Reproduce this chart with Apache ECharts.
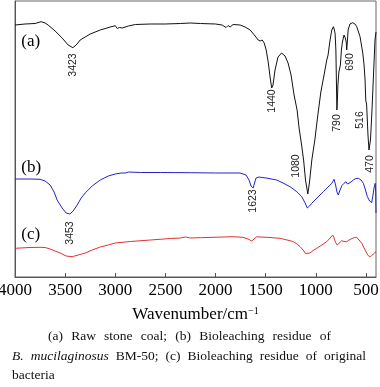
<!DOCTYPE html>
<html><head><meta charset="utf-8">
<script src="https://cdn.jsdelivr.net/npm/echarts@6/dist/echarts.min.js"></script>
<style>html,body{margin:0;padding:0;background:#fff}#c{width:380px;height:387px}</style>
</head><body><div id="c"></div>
<script>
// ---- data (wavenumber, relative transmittance, arbitrary offset units) ----
const waveA = [4000,3900,3800,3740,3700,3670,3600,3530,3470,3423,3390,3350,3250,3150,3050,3000,2980,2960,2930,2870,2800,2650,2535,2518,2503,2350,2250,2150,2000,1935,1895,1875,1855,1825,1755,1705,1655,1605,1575,1555,1535,1515,1495,1475,1455,1440,1427,1407,1377,1342,1307,1277,1247,1217,1187,1167,1142,1122,1103,1080,1063,1040,1010,980,950,918,900,891,885,878,858,841,825,815,808,800,795,790,785,780,770,755,745,735,719,706,697,692,686,678,660,632,610,592,559,532,519,509,504,501,494,491,480,470,455,440,425,410,400];
const transA = [252,253,253.5,255.3,254,252,246,239,232,229.3,232,237,243,247,250,251.3,248.5,249.5,249,251,252.5,253,253,251.5,253,253.5,254,253.5,253,252,249.5,251.5,250,252.5,252,250,247,241,237,236,237,234,227,215,199,189,192,207,220,224,221,214,202,182,167,149,132,117,97,83,95,117,137,162,185,202,212,217,217,222,237,247,250.3,247,243.7,227,197,167,177,192,205,212,227,235,242,239,235,227,235,247,253,254.3,253,250.3,240.3,224,212,197,182,176,173,167,142,127,137,167,202,237,245];
const waveB = [4000,3850,3750,3700,3650,3610,3580,3530,3490,3453,3420,3380,3340,3300,3230,3150,3070,3000,2940,2921,2900,2870,2750,2550,2250,2000,1755,1696,1666,1646,1625,1611,1596,1566,1536,1496,1390,1327,1257,1190,1140,1107,1085,1063,1041,988,925,878,841,818,803,789,776,759,739,719,699,684,666,649,626,599,576,549,526,505,486,464,443,430,420,408,403,400];
const transB = [98,98,97.7,96,92,85,77,69,64,63,66,72,79,84,91,97,101,103,104,106,104,105,104.5,104.5,104.3,104,104,102,97,91,89,94,99,100,99.5,99,97,94,90.3,85.3,80.3,74,69,71,73.7,79,85.3,90,93.7,97.7,92,85,82,87,91.5,93.7,95.3,93,91,95,97,98.5,98.7,97,93.7,87,80.3,76,74.3,82,89,93.7,85,64];
const waveC = [4000,3850,3750,3700,3650,3600,3550,3490,3430,3370,3300,3230,3150,3070,3000,2850,2650,2450,2350,2300,2250,2150,2025,1825,1726,1676,1639,1616,1589,1556,1489,1357,1307,1257,1224,1187,1157,1127,1103,1085,1058,1028,991,948,891,858,832,818,803,786,769,742,719,692,669,639,614,592,569,542,519,492,474,453,440,427,415,400];
const transC = [28.7,29.5,29.7,29.5,28,26,24,21,20.3,22,24,27,30,32,34,35.5,37,38.5,39,40,39,39.3,39.7,40.3,39.7,38,36,38,40.3,40,39.7,38.7,37.5,36.3,35.3,33,30.3,27,23.5,22,24,26.5,28.7,31.5,35.3,39,42,39,34.5,32,34,36.3,35.5,35.3,37,38.5,39.5,39.7,37,33.7,29,23.7,21,20.3,22,23,24.5,25.3];
const tickValues = [4000,3500,3000,2500,2000,1500,1000,500];
const curveTags = ['(a)','(b)','(c)'];
const curveTagWave = [3938,3938,3938];
const curveTagLevel = [235,109,42];
const peakTexts = ['3423','1440','1080','790','690','516','470','1623','3453'];
const peakWave = [3423,1440,1200,790,660,557,457,1623,3453];
const peakLevel = [212,176,111,154,215,157,113,76,44];
const captionLine1 = ['(a)','Raw','stone','coal;','(b)','Bioleaching','residue','of'];
const captionLine2 = ['B.','mucilaginosus','BM-50;','(c)','Bioleaching','residue','of','original'];
const captionLine2Italic = [true,true,false,false,false,false,false,false];
const captionLine3 = 'bacteria';

// ---- chart ----
const SERIF = '"Liberation Serif","Times New Roman",serif';
const SANS = '"Liberation Sans",Arial,sans-serif';
const chart = echarts.init(document.getElementById('c'), null, {renderer:'canvas'});
const pair = (w, t) => w.map((x, i) => [x, t[i]]);
const mk = (name, data, color) => ({
  type:'line', name, data, showSymbol:false, symbol:'none', smooth:false,
  lineStyle:{color, width:1}, itemStyle:{color}, animation:false, silent:true
});
chart.setOption({
  animation:false,
  grid:{left:15, right:4, top:1, bottom:110, containLabel:false, outerBoundsMode:'none',
        show:true, borderColor:'#666', borderWidth:1},
  xAxis:{
    type:'value', inverse:true, min:400, max:4000,
    axisLine:{show:true, lineStyle:{color:'#555', width:1}},
    axisTick:{show:true, inside:true, length:4, lineStyle:{color:'#555'}, customValues:tickValues},
    axisLabel:{show:true, margin:5, fontFamily:SERIF, fontSize:17, color:'#000', customValues:tickValues,
               hideOverlap:false, formatter:v => String(v)},
    splitLine:{show:false},
    name:'{n|Wavenumber/cm}{s|\u22121}', nameLocation:'middle', nameGap:29,
    nameTextStyle:{rich:{
      n:{fontFamily:SERIF, fontSize:17, color:'#000'},
      s:{fontFamily:SERIF, fontSize:10, color:'#000', verticalAlign:'top'}
    }}
  },
  yAxis:{
    type:'value', min:0, max:276,
    axisLine:{show:true, lineStyle:{color:'#555'}}, axisTick:{show:false},
    axisLabel:{show:false}, splitLine:{show:false}
  },
  series:[
    mk('a', pair(waveA, transA), '#111111'),
    mk('b', pair(waveB, transB), '#2222cc'),
    mk('c', pair(waveC, transC), '#e03030')
  ]
});

// ---- text overlays ----
const g = [];
const txt = (x, y, text, family, size, extra) => Object.assign({
  type:'text', x, y, silent:true,
  style:Object.assign({text, fontFamily:family, fontSize:size, fontStyle:'normal', fill:'#111',
    align:'left', verticalAlign:'middle', textAlign:'left', textVerticalAlign:'middle'}, extra && extra.style)
}, extra && extra.el);
curveTags.forEach((t, i) => {
  const p = chart.convertToPixel({gridIndex:0}, [curveTagWave[i], curveTagLevel[i]]);
  g.push(txt(p[0], p[1], t, SERIF, 17, {style:{fill:'#000'}}));
});
peakTexts.forEach((t, i) => {
  const p = chart.convertToPixel({gridIndex:0}, [peakWave[i], peakLevel[i]]);
  g.push(txt(p[0], p[1], t, SANS, 10.5, {style:{fill:'#222', align:'center', textAlign:'center'}, el:{rotation:Math.PI/2}}));
});
const CAP = 13.5;
const ctx = document.createElement('canvas').getContext('2d');
function justify(words, italic, x0, x1, y) {
  const styles = words.map((w, i) => (italic && italic[i] ? 'italic' : 'normal'));
  const widths = words.map((w, i) => { ctx.font = styles[i] + ' ' + CAP + 'px ' + SERIF; return ctx.measureText(w).width; });
  const total = widths.reduce((a, b) => a + b, 0);
  const gap = (x1 - x0 - total) / (words.length - 1);
  let x = x0;
  words.forEach((w, i) => {
    g.push(txt(x, y, w, SERIF, CAP, {style:{fontStyle:styles[i]}}));
    x += widths[i] + gap;
  });
}
justify(captionLine1, null, 48, 331, 336);
justify(captionLine2, captionLine2Italic, 12, 366, 356);
g.push(txt(12, 375.5, captionLine3, SERIF, CAP));
chart.setOption({graphic:g});
</script>
</body></html>
